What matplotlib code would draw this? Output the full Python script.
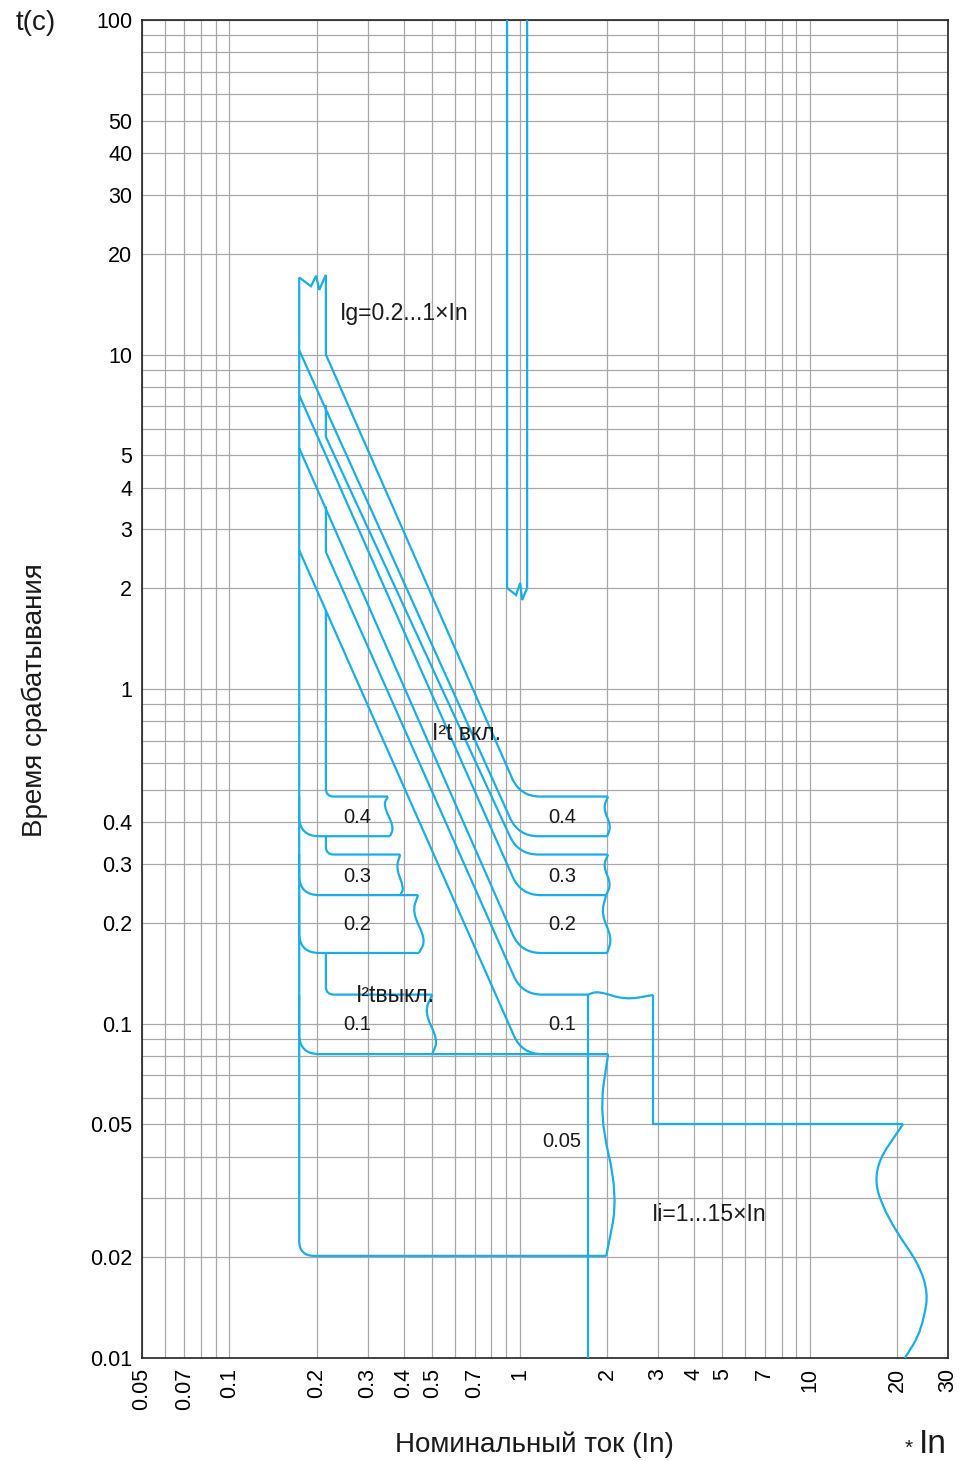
import numpy as np
import matplotlib
matplotlib.use('Agg')
import matplotlib.pyplot as plt
from matplotlib.path import Path
from matplotlib.patches import PathPatch
from matplotlib.ticker import FixedLocator, LogLocator, NullFormatter, FuncFormatter

plt.rcParams['font.family'] = ['Liberation Sans', 'DejaVu Sans']

CYAN = '#1aaee6'

# axis ticks
x_ticks = [0.05, 0.07, 0.1, 0.2, 0.3, 0.4, 0.5, 0.7, 1, 2, 3, 4, 5, 7, 10, 20, 30]
y_ticks = [100, 50, 40, 30, 20, 10, 5, 4, 3, 2, 1, 0.4, 0.3, 0.2, 0.1, 0.05, 0.02, 0.01]

# Ig pickup band (x In) and its broken top
ig_lo, ig_hi = 0.174, 0.215
ig_cap_i = [0.174, 0.191, 0.199, 0.204, 0.215]
ig_cap_t = [17.0, 16.0, 17.2, 15.6, 17.3]

# delay settings, box limits (s)
settings = ['0.4', '0.3', '0.2', '0.1']
t_hi = [0.477, 0.320, 0.242, 0.122]
t_lo = [0.363, 0.242, 0.1625, 0.081]

# I2t on: lower curves start on ig_lo, bend to flat at end_i
on_lo_start_t = [10.3, 7.56, 5.25, 2.60]
on_lo_end_i = [0.99, 1.01, 1.01, 1.02]
# I2t on: upper curves (0.2 shares the 0.3 lower curve)
on_up_vtop = [17.3, 7.06, 3.52]
on_up_vbot = [10.0, 5.67, 2.57]
on_up_end_i = [1.005, 0.99, 1.02]
on_up_t = [0.477, 0.320, 0.122]

# broken right edges of the I2t-on boxes (0.4, 0.3, 0.2)
on_wave_i = [[2.02, 1.94, 2.069, 2.004], [2.02, 1.94, 2.069, 1.988], [1.988, 1.911, 2.085, 2.004]]
on_wave_t = [[0.477, 0.4409, 0.3893, 0.363], [0.320, 0.2958, 0.2612, 0.242], [0.242, 0.2126, 0.1801, 0.1625]]

# I2t off boxes
off_top_vtop = [1.72, 0.363, 0.1625]
off_top_t = [0.477, 0.320, 0.122]
off_top_end = [0.352, 0.388, 0.500]
off_bot_end = [0.358, 0.447, 0.450, 2.02]
off_wave_i = [[0.352, 0.339, 0.369, 0.358], [0.388, 0.375, 0.400, 0.388],
              [0.447, 0.426, 0.476, 0.450], [0.500, 0.469, 0.524, 0.500]]
off_wave_t = [[0.477, 0.450, 0.387, 0.363], [0.320, 0.2916, 0.2541, 0.242],
              [0.242, 0.2154, 0.1777, 0.1625], [0.122, 0.1082, 0.0893, 0.081]]

# 0.05 s box
t005_bot = 0.0202
w005_i = [2.02, 1.88, 2.19, 1.99]
w005_t = [0.081, 0.0533, 0.0307, 0.0202]

# instantaneous Ii region
ii_left = 1.723
ii_top_i = [1.723, 1.865, 2.312, 2.886]
ii_top_t = [0.122, 0.1251, 0.1176, 0.1217]
ii_step_i = 2.886
ii_t = 0.0501
ii_right_i = [21.0, 16.4, 18.1, 26.0, 24.4, 21.3]
ii_right_t = [0.0501, 0.0365, 0.0268, 0.0171, 0.0121, 0.01]

# long time band near 1 In
lt_i = [0.906, 0.906, 0.973, 1.005, 1.021, 1.062, 1.062]
lt_t = [100, 2.004, 1.91, 2.075, 1.845, 2.004, 100]

fig = plt.figure(figsize=(9.6, 14.61), dpi=100)
ax = fig.add_axes([0.148, 0.0705, 0.8396, 0.9158])
ax.set_xscale('log')
ax.set_yscale('log')
ax.set_xlim(0.05, 30)
ax.set_ylim(0.01, 100)

ax.xaxis.set_major_locator(FixedLocator(x_ticks))
ax.yaxis.set_major_locator(FixedLocator(y_ticks))
fmt = FuncFormatter(lambda v, p: f'{v:g}')
ax.xaxis.set_major_formatter(fmt)
ax.yaxis.set_major_formatter(fmt)
for a in (ax.xaxis, ax.yaxis):
    a.set_minor_locator(LogLocator(base=10, subs=np.arange(1, 10), numticks=50))
    a.set_minor_formatter(NullFormatter())
ax.grid(True, which='both', color='#a8a8a8', lw=0.9)
ax.set_axisbelow(True)
ax.tick_params(which='both', length=0, labelsize=15.5, pad=7)
ax.tick_params(axis='x', labelrotation=90)
for s in ax.spines.values():
    s.set_linewidth(1.2)
    s.set_color('#222222')


def curve(xs, ys, r):
    # r: corner radius in pixels per vertex, 0 = sharp
    p = ax.transData.transform(np.column_stack([xs, ys]))
    verts, codes = [p[0]], [Path.MOVETO]
    for k in range(1, len(p) - 1):
        if r[k] == 0:
            verts.append(p[k])
            codes.append(Path.LINETO)
            continue
        d1, d2 = p[k - 1] - p[k], p[k + 1] - p[k]
        n1, n2 = np.hypot(*d1), np.hypot(*d2)
        a = p[k] + d1 / n1 * min(r[k], n1 / 2)
        b = p[k] + d2 / n2 * min(r[k], n2 / 2)
        verts += [a, p[k], b]
        codes += [Path.LINETO, Path.CURVE3, Path.CURVE3]
    verts.append(p[-1])
    codes.append(Path.LINETO)
    verts = ax.transData.inverted().transform(np.array(verts))
    ax.add_patch(PathPatch(Path(verts, codes), fill=False, ec=CYAN, lw=1.6,
                           capstyle='butt', joinstyle='miter', zorder=3))


def wave(xs, ys):
    curve(xs, ys, [0] + [999] * (len(xs) - 2) + [0])


# Ig band top and left edge down to the 0.05 box
curve(ig_cap_i, ig_cap_t, [0] * 5)
curve([ig_lo, ig_lo, w005_i[-1]], [ig_cap_t[0], t005_bot, t005_bot], [0, 15, 0])

# I2t on, lower curves
lo_right = [on_wave_i[0][-1], on_wave_i[1][-1], on_wave_i[2][-1], w005_i[0]]
for k in range(4):
    curve([ig_lo, on_lo_end_i[k], lo_right[k]], [on_lo_start_t[k], t_lo[k], t_lo[k]], [0, 20, 0])

# I2t on, upper curves
up_right = [on_wave_i[0][0], on_wave_i[1][0], ii_left]
for k in range(3):
    curve([ig_hi, ig_hi, on_up_end_i[k], up_right[k]],
          [on_up_vtop[k], on_up_vbot[k], on_up_t[k], on_up_t[k]], [0, 0, 20, 0])
for k in range(3):
    wave(on_wave_i[k], on_wave_t[k])

# I2t off boxes
for k in range(3):
    curve([ig_hi, ig_hi, off_top_end[k]], [off_top_vtop[k], off_top_t[k], off_top_t[k]], [0, 8, 0])
for k in range(4):
    curve([ig_lo, ig_lo, off_bot_end[k]], [t_hi[k], t_lo[k], t_lo[k]], [0, 20, 0])
    wave(off_wave_i[k], off_wave_t[k])

# 0.05 box edge
wave(w005_i, w005_t)

# instantaneous region
curve([ii_left, ii_left], [0.01, ii_top_t[0]], [0, 0])
wave(ii_top_i, ii_top_t)
curve([ii_step_i, ii_step_i, ii_right_i[0]], [ii_top_t[-1], ii_t, ii_t], [0, 0, 0])
wave(ii_right_i, ii_right_t)

# long time band
curve(lt_i, lt_t, [0] * len(lt_i))

# labels inside the chart
txt = dict(fontsize=16.5, color='#1a1a1a', zorder=4)
ax.text(0.241, 13.3, 'Ig=0.2...1×In', va='center', ha='left', **txt)
ax.text(0.50, 0.735, 'I²t вкл.', va='center', ha='left', **txt)
ax.text(0.273, 0.1215, 'I²tвыкл.', va='center', ha='left', **txt)
ax.text(2.865, 0.0269, 'Ii=1...15×In', va='center', ha='left', **txt)
box_mid = [0.414, 0.276, 0.198, 0.0990]
for k in range(4):
    ax.text(0.2754, box_mid[k], settings[k], va='center', ha='center', fontsize=14.5, color='#1a1a1a', zorder=4)
    ax.text(1.402, box_mid[k], settings[k], va='center', ha='center', fontsize=14.5, color='#1a1a1a', zorder=4)
ax.text(1.402, 0.0443, '0.05', va='center', ha='center', fontsize=14.5, color='#1a1a1a', zorder=4)

# axis titles
fig.text(0.037, 0.984, 't(c)', fontsize=20, ha='center', va='center', color='#1a1a1a')
fig.text(0.036, 0.521, 'Время срабатывания', fontsize=20, rotation=90, ha='center', va='center', color='#1a1a1a')
fig.text(0.557, 0.011, 'Номинальный ток (In)', fontsize=20, ha='center', va='center', color='#1a1a1a')
fig.text(0.972, 0.011, 'In', fontsize=24, ha='center', va='center', color='#1a1a1a')
fig.text(0.947, 0.009, '*', fontsize=15, ha='center', va='center', color='#1a1a1a')

fig.savefig('out.png', dpi=100)
